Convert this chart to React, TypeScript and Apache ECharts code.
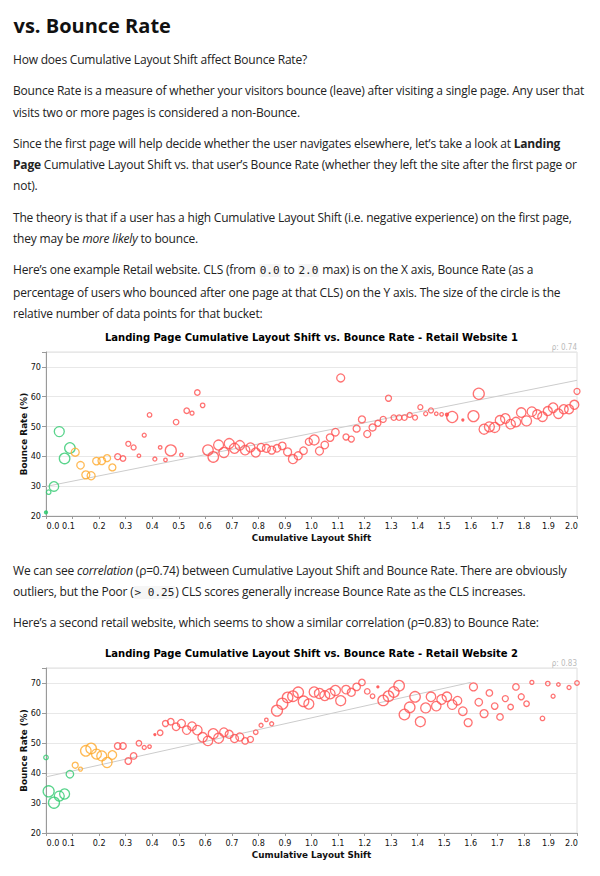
import React, { useEffect, useRef } from "react";
import * as echarts from "echarts";

// ---------- Data: Retail Website 1 ----------
const cls1 = [0.0, 0.01, 0.03, 0.05, 0.07, 0.09, 0.11, 0.13, 0.15, 0.17, 0.19, 0.21, 0.23, 0.25, 0.27, 0.29, 0.31, 0.33, 0.35, 0.37, 0.39, 0.41, 0.43, 0.45, 0.47, 0.49, 0.51, 0.53, 0.55, 0.57, 0.59, 0.61, 0.63, 0.65, 0.67, 0.69, 0.71, 0.73, 0.75, 0.77, 0.79, 0.81, 0.83, 0.85, 0.87, 0.89, 0.91, 0.93, 0.95, 0.97, 0.99, 1.01, 1.03, 1.05, 1.07, 1.09, 1.11, 1.13, 1.15, 1.17, 1.19, 1.21, 1.23, 1.25, 1.27, 1.29, 1.31, 1.33, 1.35, 1.37, 1.39, 1.41, 1.43, 1.45, 1.47, 1.49, 1.51, 1.53, 1.57, 1.61, 1.63, 1.65, 1.67, 1.69, 1.71, 1.73, 1.75, 1.77, 1.79, 1.81, 1.83, 1.85, 1.87, 1.89, 1.91, 1.93, 1.95, 1.97, 1.99, 2.0];
const bounce1 = [21.2, 28.0, 29.9, 48.3, 39.3, 42.8, 41.4, 37.0, 33.8, 33.5, 38.4, 38.5, 39.4, 36.3, 39.9, 39.3, 44.2, 43.0, 40.2, 47.1, 53.9, 39.1, 43.0, 38.8, 42.0, 51.5, 40.5, 55.3, 54.5, 61.4, 57.1, 42.1, 39.8, 43.8, 41.3, 44.3, 42.7, 43.7, 42.1, 43.0, 41.3, 43.0, 42.7, 42.1, 42.7, 43.5, 41.5, 39.1, 40.2, 41.9, 44.9, 45.5, 41.8, 43.8, 46.3, 48.1, 66.3, 46.5, 45.8, 49.3, 52.4, 47.5, 49.7, 51.1, 52.4, 59.5, 53.0, 53.0, 53.0, 53.9, 53.0, 56.5, 54.3, 55.4, 54.3, 54.1, 54.0, 53.2, 52.2, 53.5, 61.0, 49.1, 49.9, 49.7, 52.1, 52.7, 50.8, 51.5, 54.7, 51.9, 55.0, 54.1, 53.3, 55.2, 56.3, 54.3, 55.8, 55.8, 57.3, 61.8];
const weight1 = [3, 4.5, 9.5, 10, 10.5, 10.5, 8, 7.5, 8, 8, 7.5, 7.5, 7, 7, 6, 5.5, 5, 5, 3.5, 4, 4.5, 4, 3.5, 3.5, 11, 5.5, 3.5, 5.5, 4, 5.5, 4.5, 10.5, 10.5, 10, 10, 10, 10, 9.5, 9.5, 9, 9, 8, 8, 8, 7.5, 7.5, 8, 9, 8, 7.5, 7, 10, 8, 7.5, 7.5, 7.5, 8, 6, 6, 7, 7, 7, 7, 6, 6, 6, 5.5, 5.5, 5.5, 5, 5, 5, 4, 5, 3.5, 3.5, 3, 11, 2, 11, 11, 10, 10, 10, 9.5, 9.5, 9.5, 9.5, 9.5, 10, 9.5, 9, 9.5, 9, 9.5, 9.5, 9, 9, 9, 6];
const trend1 = [[0, 29.9], [2.0, 65.5]];
const rho1 = "ρ: 0.74";
const title1 = "Landing Page Cumulative Layout Shift vs. Bounce Rate - Retail Website 1";

// ---------- Data: Retail Website 2 ----------
const cls2 = [0.0, 0.01, 0.03, 0.05, 0.07, 0.09, 0.11, 0.13, 0.15, 0.17, 0.19, 0.21, 0.23, 0.25, 0.27, 0.29, 0.31, 0.33, 0.35, 0.37, 0.39, 0.41, 0.43, 0.45, 0.47, 0.49, 0.51, 0.53, 0.55, 0.57, 0.59, 0.61, 0.63, 0.65, 0.67, 0.69, 0.71, 0.73, 0.75, 0.77, 0.79, 0.81, 0.83, 0.85, 0.87, 0.89, 0.91, 0.93, 0.95, 0.97, 0.99, 1.01, 1.03, 1.05, 1.07, 1.09, 1.11, 1.13, 1.15, 1.17, 1.19, 1.21, 1.23, 1.25, 1.27, 1.29, 1.31, 1.33, 1.35, 1.37, 1.39, 1.41, 1.43, 1.45, 1.47, 1.49, 1.51, 1.53, 1.55, 1.57, 1.59, 1.61, 1.63, 1.65, 1.67, 1.69, 1.71, 1.73, 1.75, 1.77, 1.79, 1.81, 1.83, 1.87, 1.89, 1.91, 1.93, 1.97, 2.0];
const bounce2 = [45.2, 33.9, 30.1, 32.3, 33.0, 39.6, 42.6, 41.3, 47.4, 48.2, 46.3, 45.7, 43.5, 46.0, 49.0, 49.0, 44.0, 45.7, 49.9, 48.5, 48.8, 52.8, 53.4, 56.5, 57.1, 55.4, 56.5, 54.3, 55.6, 54.3, 51.9, 50.7, 53.1, 51.6, 53.6, 52.9, 51.5, 52.0, 50.7, 51.2, 53.6, 55.9, 57.7, 56.4, 60.8, 63.1, 65.2, 65.6, 66.9, 63.9, 63.0, 67.0, 66.5, 65.8, 66.4, 67.5, 64.1, 67.8, 66.9, 68.7, 70.2, 67.2, 65.6, 68.7, 64.2, 65.6, 67.0, 69.1, 59.5, 61.9, 65.4, 57.1, 61.7, 65.4, 62.3, 64.5, 65.4, 62.8, 64.1, 60.6, 56.8, 68.7, 63.6, 59.8, 66.7, 62.3, 58.7, 64.8, 62.0, 68.7, 65.4, 63.1, 70.2, 58.2, 69.8, 65.6, 69.5, 68.5, 70.0];
const weight2 = [4.5, 11, 11, 10, 10, 7.5, 6, 4, 10.5, 10.5, 10, 10, 10, 8.5, 6.5, 6.5, 6.5, 6.5, 5.5, 4, 3.5, 2, 5.5, 6, 6.5, 7.5, 8, 8.5, 8.5, 9.5, 9.5, 9.5, 10, 10, 8.5, 8, 8, 8, 6.5, 6, 4.5, 4, 3.5, 4, 11, 11, 10.5, 10.5, 10.5, 10.5, 10, 10, 10, 10, 10, 10, 10, 8.5, 8, 7.5, 6.5, 5.5, 4.5, 2, 10.5, 10.5, 10.5, 10.5, 10.5, 10.5, 10.5, 10, 10, 9.5, 9.5, 9.5, 9.5, 9.5, 8.5, 8.5, 8, 8, 7.5, 8, 6.5, 6.5, 6.5, 6, 5.5, 6.5, 6, 5.5, 4, 4.5, 4.5, 4, 3.5, 4, 4.5];
const trend2 = [[0, 38.7], [1.6, 70.2]];
const rho2 = "ρ: 0.83";
const title2 = "Landing Page Cumulative Layout Shift vs. Bounce Rate - Retail Website 2";

const xAxisName = "Cumulative Layout Shift";
const yAxisName = "Bounce Rate (%)";

const CHART_FONT = '"DejaVu Sans Condensed", "DejaVu Sans", sans-serif';
const WIDE_FONT = '"DejaVu Sans", sans-serif';
const GOOD = "#2fc96f";
const NI = "#ffa92a";
const POOR = "#ff4f4f";

function colorFor(x: number) {
  if (x <= 0.1) return GOOD;
  if (x <= 0.25) return NI;
  return POOR;
}

function buildOption(title: string, rho: string, xs: number[], ys: number[], ws: number[], trend: number[][]) {
  const data = xs.map((x, i) => ({
    value: [x, ys[i], ws[i]],
    itemStyle: { borderColor: colorFor(x), color: ws[i] <= 3 ? colorFor(x) : "rgba(255,255,255,0)" },
  }));
  const labelBase = { fontSize: 9, fontFamily: CHART_FONT, color: "#111" };
  const nameStyle = { fontWeight: "bold", fontSize: 8.8, fontFamily: WIDE_FONT, color: "#111" };
  return {
    animation: false,
    textStyle: { fontFamily: CHART_FONT },
    grid: { left: 46, right: 23, top: 30, bottom: 30, show: true, borderColor: "#dedede", borderWidth: 1 },
    xAxis: {
      type: "value",
      min: 0,
      max: 2,
      interval: 0.1,
      name: xAxisName,
      nameLocation: "middle",
      nameGap: 17,
      nameMoveOverlap: false,
      nameTextStyle: nameStyle,
      axisLine: { show: true, lineStyle: { color: "#9a9a9a", width: 1 } },
      axisTick: { show: true, length: 3, lineStyle: { color: "#9a9a9a" } },
      splitLine: { show: false },
      axisLabel: {
        ...labelBase,
        margin: 5,
        formatter: (v: number) => {
          const s = v.toFixed(1);
          if (s === "0.0") return "{a|0.0}";
          if (s === "0.1") return "{b|0.1}";
          if (s === "1.9") return "{c|1.9}";
          if (s === "2.0") return "{d|2.0}";
          return s;
        },
        rich: {
          a: { ...labelBase, padding: [0, 0, 0, 14] },
          b: { ...labelBase, padding: [0, 8, 0, 0] },
          c: { ...labelBase, padding: [0, 4, 0, 0] },
          d: { ...labelBase, padding: [0, 11, 0, 0] },
        },
      },
    },
    yAxis: {
      type: "value",
      min: 20,
      max: 75,
      interval: 10,
      name: yAxisName,
      nameLocation: "middle",
      nameGap: 17.5,
      nameMoveOverlap: false,
      nameTextStyle: nameStyle,
      axisLine: { show: true, lineStyle: { color: "#9a9a9a", width: 1 } },
      axisTick: { show: true, length: 4, lineStyle: { color: "#9a9a9a" } },
      splitLine: { show: true, lineStyle: { color: "#e8e8e8", width: 1 } },
      axisLabel: {
        ...labelBase,
        margin: 5,
        formatter: (v: number) => (Math.round(v) % 10 === 0 ? String(Math.round(v)) : ""),
      },
    },
    graphic: [
      {
        type: "text",
        x: 311.5,
        y: 15,
        silent: true,
        style: {
          text: title,
          font: 'bold 10px "DejaVu Sans", sans-serif',
          fill: "#000",
          align: "center",
          textAlign: "center",
          verticalAlign: "middle",
          textVerticalAlign: "middle",
        },
      },
      {
        type: "text",
        x: 577,
        y: 25.5,
        silent: true,
        style: {
          text: rho,
          font: '8px "DejaVu Sans Condensed", "DejaVu Sans", sans-serif',
          fill: "#bbbbbb",
          align: "right",
          textAlign: "right",
          verticalAlign: "middle",
          textVerticalAlign: "middle",
        },
      },
    ],
    series: [
      {
        type: "line",
        data: trend,
        symbol: "none",
        silent: true,
        z: 1,
        lineStyle: { color: "#cccccc", width: 1 },
      },
      {
        type: "scatter",
        data,
        z: 2,
        symbol: "circle",
        symbolSize: (v: number[]) => v[2],
        itemStyle: { borderWidth: 1.3 },
      },
    ],
  };
}

function Chart(props: { top: number; height: number; option: any }) {
  const ref = useRef<HTMLDivElement>(null);
  useEffect(() => {
    if (!ref.current) return;
    const chart = echarts.init(ref.current, undefined, { renderer: "svg" });
    chart.setOption(props.option);
    return () => chart.dispose();
  }, []);
  return (
    <div
      ref={ref}
      style={{ position: "absolute", left: 0, top: props.top, width: 600, height: props.height }}
    />
  );
}

const bodyStyle: React.CSSProperties = {
  position: "absolute",
  left: 13,
  fontFamily: '"Open Sans", sans-serif',
  fontSize: 12,
  letterSpacing: "-0.2px",
  lineHeight: "21.2px",
  color: "#222",
  whiteSpace: "nowrap",
};

const codeStyle: React.CSSProperties = {
  fontFamily: '"DejaVu Sans Mono", monospace',
  fontSize: 11,
  letterSpacing: 0,
  background: "#f6f6f6",
  padding: "0 1px",
};

function P(props: { top: number; children: React.ReactNode }) {
  return <div style={{ ...bodyStyle, top: props.top }}>{props.children}</div>;
}

export default function App() {
  const opt1 = buildOption(title1, rho1, cls1, bounce1, weight1, trend1);
  const opt2 = buildOption(title2, rho2, cls2, bounce2, weight2, trend2);
  return (
    <div
      style={{
        position: "absolute",
        left: 0,
        top: 0,
        width: 600,
        height: 876,
        background: "#fff",
        overflow: "hidden",
      }}
    >
      <div
        style={{
          position: "absolute",
          left: 13.5,
          top: 13.2,
          fontFamily: '"Open Sans", sans-serif',
          fontWeight: 700,
          fontSize: 20,
          lineHeight: "26px",
          color: "#111",
          whiteSpace: "nowrap",
        }}
      >
        vs. Bounce Rate
      </div>
      <P top={49}>How does Cumulative Layout Shift affect Bounce Rate?</P>
      <P top={80.4}>
        Bounce Rate is a measure of whether your visitors bounce (leave) after visiting a single page. Any user that
        <br />
        visits two or more pages is considered a non-Bounce.
      </P>
      <P top={133}>
        Since the first page will help decide whether the user navigates elsewhere, let’s take a look at <b>Landing</b>
        <br />
        <b>Page</b> Cumulative Layout Shift vs. that user’s Bounce Rate (whether they left the site after the first page or
        <br />
        not).
      </P>
      <P top={206.8}>
        The theory is that if a user has a high Cumulative Layout Shift (i.e. negative experience) on the first page,
        <br />
        they may be <i>more likely</i> to bounce.
      </P>
      <P top={259.4}>
        Here’s one example Retail website. CLS (from <span style={codeStyle}>0.0</span> to{" "}
        <span style={codeStyle}>2.0</span> max) is on the X axis, Bounce Rate (as a
        <br />
        percentage of users who bounced after one page at that CLS) on the Y axis. The size of the circle is the
        <br />
        relative number of data points for that bucket:
      </P>
      <Chart top={322} height={225} option={opt1} />
      <P top={559.5}>
        We can see <i>correlation</i> (ρ=0.74) between Cumulative Layout Shift and Bounce Rate. There are obviously
        <br />
        outliers, but the Poor (<span style={codeStyle}>&gt; 0.25</span>) CLS scores generally increase Bounce Rate as the CLS increases.
      </P>
      <P top={611.5}>Here’s a second retail website, which seems to show a similar correlation (ρ=0.83) to Bounce Rate:</P>
      <Chart top={638} height={226} option={opt2} />
    </div>
  );
}
